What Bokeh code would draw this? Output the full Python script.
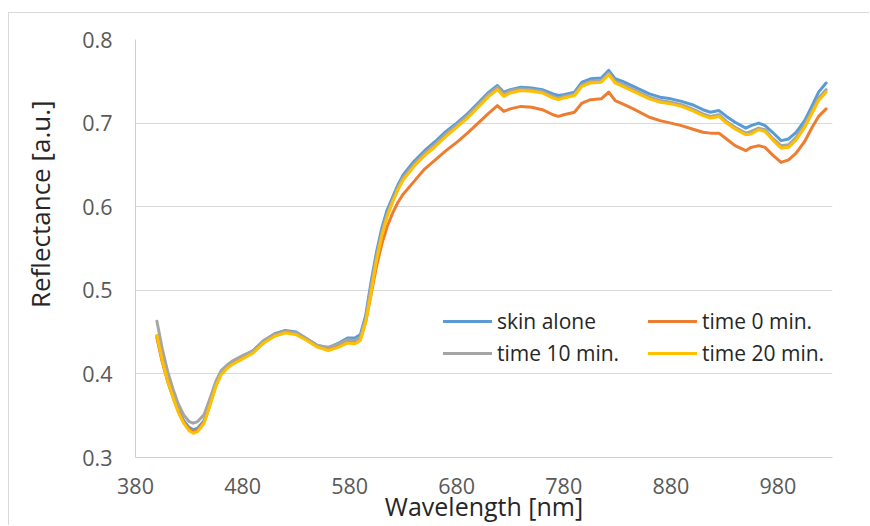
from bokeh.plotting import figure
from bokeh.models import Range1d, FixedTicker, Legend, LegendItem, Title
from bokeh.embed import file_html
from bokeh.resources import INLINE

wavelength = [400, 405, 410, 415, 420, 425, 430, 434, 438, 444, 450, 455, 460, 465, 470,
              480, 490, 500, 510, 520, 530, 540, 550, 560, 570, 578, 585, 590, 595, 600,
              605, 610, 615, 620, 625, 630, 640, 650, 660, 670, 680, 690, 700, 710, 718,
              724, 730, 740, 750, 760, 770, 775, 780, 790, 797, 805, 815, 822, 828, 835,
              845, 860, 870, 880, 890, 900, 910, 917, 925, 932, 940, 950, 955, 962, 968,
              975, 983, 990, 997, 1005, 1012, 1018, 1025]

skin_alone = [0.445, 0.416, 0.393, 0.374, 0.357, 0.344, 0.336, 0.333, 0.335, 0.344, 0.366, 0.387, 0.401, 0.408, 0.413,
              0.420, 0.428, 0.440, 0.448, 0.452, 0.450, 0.442, 0.434, 0.431, 0.437, 0.443, 0.443, 0.447, 0.470, 0.510,
              0.545, 0.574, 0.596, 0.611, 0.626, 0.638, 0.654, 0.667, 0.678, 0.690, 0.700, 0.711, 0.724, 0.737, 0.745,
              0.737, 0.740, 0.743, 0.742, 0.740, 0.735, 0.733, 0.734, 0.737, 0.749, 0.753, 0.754, 0.763, 0.753, 0.750,
              0.744, 0.735, 0.731, 0.729, 0.726, 0.722, 0.716, 0.713, 0.715, 0.708, 0.701, 0.694, 0.697, 0.700, 0.697,
              0.689, 0.679, 0.681, 0.689, 0.703, 0.721, 0.737, 0.748]

time_0 = [0.443, 0.414, 0.391, 0.372, 0.355, 0.342, 0.334, 0.331, 0.333, 0.342, 0.365, 0.386, 0.400, 0.407, 0.412,
          0.419, 0.427, 0.439, 0.447, 0.451, 0.449, 0.441, 0.433, 0.430, 0.434, 0.439, 0.438, 0.442, 0.462, 0.495,
          0.528, 0.555, 0.576, 0.592, 0.605, 0.615, 0.630, 0.645, 0.656, 0.667, 0.677, 0.688, 0.700, 0.712, 0.721,
          0.714, 0.717, 0.720, 0.719, 0.716, 0.710, 0.708, 0.710, 0.713, 0.724, 0.728, 0.729, 0.737, 0.727, 0.723,
          0.717, 0.707, 0.703, 0.700, 0.697, 0.693, 0.689, 0.688, 0.688, 0.681, 0.673, 0.667, 0.671, 0.673, 0.671,
          0.662, 0.653, 0.656, 0.664, 0.678, 0.695, 0.708, 0.717]

time_10 = [0.463, 0.430, 0.403, 0.382, 0.364, 0.351, 0.343, 0.341, 0.343, 0.351, 0.372, 0.391, 0.404, 0.410, 0.415,
           0.422, 0.428, 0.440, 0.447, 0.451, 0.449, 0.442, 0.434, 0.432, 0.436, 0.441, 0.440, 0.444, 0.466, 0.505,
           0.540, 0.569, 0.591, 0.608, 0.623, 0.635, 0.651, 0.664, 0.675, 0.687, 0.698, 0.709, 0.722, 0.735, 0.743,
           0.735, 0.739, 0.741, 0.740, 0.738, 0.732, 0.730, 0.732, 0.735, 0.746, 0.750, 0.751, 0.760, 0.750, 0.746,
           0.740, 0.731, 0.727, 0.725, 0.722, 0.717, 0.711, 0.708, 0.710, 0.702, 0.695, 0.688, 0.690, 0.694, 0.692,
           0.682, 0.673, 0.674, 0.683, 0.698, 0.715, 0.730, 0.740]

time_20 = [0.446, 0.416, 0.392, 0.372, 0.354, 0.341, 0.332, 0.329, 0.331, 0.341, 0.364, 0.385, 0.399, 0.406, 0.411,
           0.418, 0.425, 0.437, 0.445, 0.449, 0.447, 0.440, 0.432, 0.428, 0.432, 0.437, 0.436, 0.440, 0.462, 0.497,
           0.535, 0.565, 0.588, 0.605, 0.620, 0.632, 0.648, 0.661, 0.672, 0.684, 0.695, 0.706, 0.719, 0.732, 0.740,
           0.732, 0.736, 0.739, 0.738, 0.736, 0.730, 0.728, 0.730, 0.733, 0.744, 0.748, 0.749, 0.758, 0.748, 0.744,
           0.738, 0.729, 0.725, 0.723, 0.720, 0.715, 0.709, 0.706, 0.708, 0.700, 0.693, 0.686, 0.687, 0.692, 0.690,
           0.680, 0.670, 0.671, 0.680, 0.695, 0.712, 0.727, 0.737]

series_names = ["skin alone", "time 0 min.", "time 10 min.", "time 20 min."]
series_colors = ["#5B9BD5", "#ED7D31", "#A5A5A5", "#FFC000"]
x_ticks = [380, 480, 580, 680, 780, 880, 980]
y_ticks = [0.3, 0.4, 0.5, 0.6, 0.7, 0.8]
x_title = "Wavelength [nm]"
y_title = "Reflectance [a.u.]"

FONT = "Open Sans"

p = figure(width=869, height=525, output_backend="svg", toolbar_location=None,
           x_range=Range1d(380, 1031), y_range=Range1d(0.3, 0.8),
           min_border_left=135, min_border_right=37, min_border_top=39, min_border_bottom=68)
# light chart-area border drawn behind the transparent canvas
p.border_fill_color = None
p.styles = {"background": "linear-gradient(#d9d9d9, #d9d9d9) 8px 12px / 1px 100% no-repeat, "
                          "linear-gradient(#d9d9d9, #d9d9d9) 8px 12px / 100% 1px no-repeat, #ffffff"}
p.outline_line_color = None
p.xgrid.visible = False
p.ygrid.grid_line_color = "#d9d9d9"
p.ygrid.grid_line_width = 1

renderers = []
for name, ys, col in zip(series_names, [skin_alone, time_0, time_10, time_20], series_colors):
    r = p.line(wavelength, ys, line_color=col, line_width=3, line_join="round", line_cap="round")
    renderers.append(r)

for ax, ticks in ((p.xaxis, x_ticks), (p.yaxis, y_ticks)):
    ax.ticker = FixedTicker(ticks=ticks)
    ax.major_label_overrides = {t: (str(t)) for t in ticks}
    ax.major_tick_line_color = None
    ax.major_tick_out = 0
    ax.major_tick_in = 0
    ax.minor_tick_line_color = None
    ax.minor_tick_out = 0
    ax.axis_line_color = "#d0d0d0"
    ax.major_label_text_font = FONT
    ax.major_label_text_font_size = "21.5px"
    ax.major_label_text_color = "#595959"

p.xaxis.major_label_standoff = 20
p.yaxis.major_label_standoff = 23

p.xaxis.axis_label = x_title
p.xaxis.axis_label_standoff = -8
p.xaxis.axis_label_text_font = FONT
p.xaxis.axis_label_text_font_size = "25px"
p.xaxis.axis_label_text_font_style = "normal"
p.xaxis.axis_label_text_color = "#262626"

yt = Title(text=y_title, align="right", offset=61, standoff=40, vertical_align="top",
           text_font=FONT, text_font_size="26px", text_font_style="normal", text_color="#262626")
p.add_layout(yt, "left")

legend = Legend(items=[LegendItem(label=n, renderers=[r]) for n, r in zip(series_names, renderers)],
                location=(308, 90), orientation="horizontal", ncols=2,
                background_fill_alpha=0, border_line_color=None, padding=0, margin=0,
                spacing=4, glyph_width=49, glyph_height=20, label_height=20, label_width=147,
                label_standoff=5, label_text_font=FONT, label_text_font_size="21px",
                label_text_color="#262626")
p.add_layout(legend, "center")

open("out.html", "w").write(file_html(p, INLINE))
